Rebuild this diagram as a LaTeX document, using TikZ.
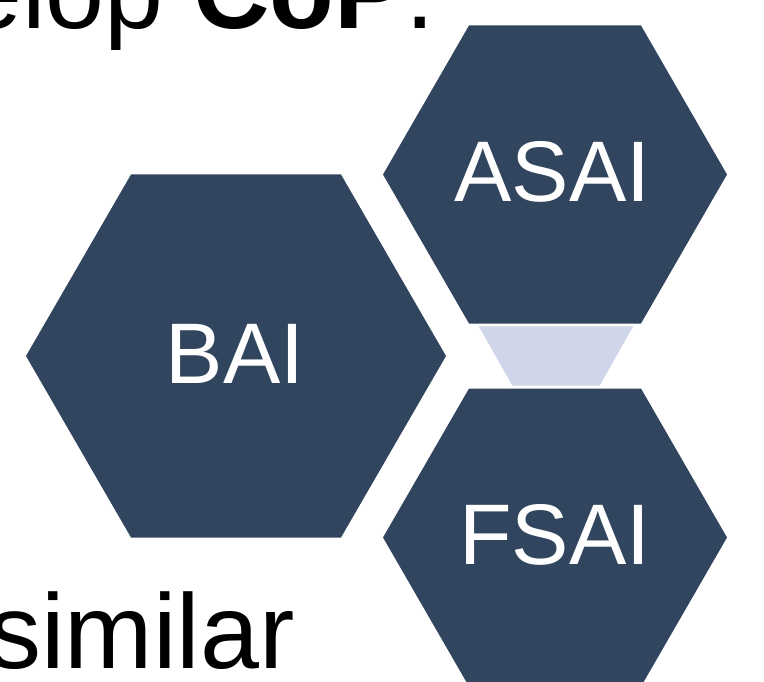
\documentclass[tikz,border=0pt]{standalone}
\usepackage{fontspec}
\setmainfont{Liberation Sans}
\definecolor{hexfill}{RGB}{50,69,94}
\definecolor{trapfill}{RGB}{208,214,234}
\begin{document}
\begin{tikzpicture}[x=1pt,y=-1pt,
  hexa/.style={fill=hexfill,draw=none},
  lbl/.style={text=white,font=\fontsize{86}{86}\selectfont,inner sep=0pt,anchor=base},
  body/.style={font=\fontsize{106}{106}\selectfont,inner sep=0pt,anchor=base west}]
\useasboundingbox (0,0) rectangle (764,682);
\clip (0,0) rectangle (764,682);
% hexagons
\fill[hexa] (26,356) -- (131,174.5) -- (341,174.5) -- (446,356) -- (341,537.5) -- (131,537.5) -- cycle;
\fill[hexa] (383,174.5) -- (469,25.5) -- (641,25.5) -- (727,174.5) -- (641,323.5) -- (469,323.5) -- cycle;
\fill[hexa] (383,537.5) -- (469,388.5) -- (641,388.5) -- (727,537.5) -- (641,686.5) -- (469,686.5) -- cycle;
% connector trapezoid
\filldraw[fill=trapfill,draw=white,line width=0.8pt] (478,326) -- (634,326) -- (600,386) -- (512,386) -- cycle;
% labels
\node[lbl] (bai) at (235,383) {BAI};
\node[lbl] (asai) at (552.5,202) {ASAI};
\node[lbl] (fsai) at (555,564) {FSAI};
% body text
\node[body] (top) at (-37,29) {elop \textbf{CoP}.};
\node[body] (bottom) at (-12,668) {similar};
\end{tikzpicture}
\end{document}
